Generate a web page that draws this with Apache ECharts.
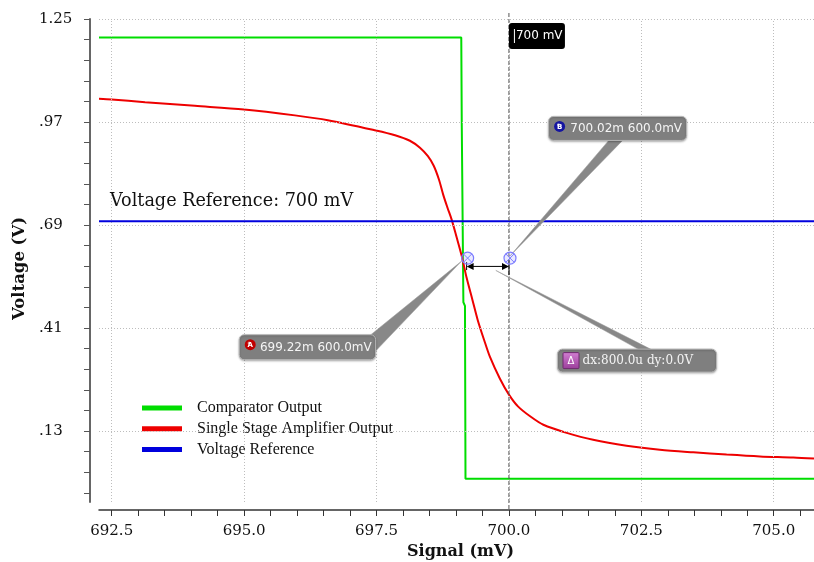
<!DOCTYPE html>
<html>
<head>
<meta charset="utf-8">
<script src="https://cdn.jsdelivr.net/npm/echarts@6/dist/echarts.min.js"></script>
<style>
  html, body { margin: 0; padding: 0; background: #fff; }
  #chart { width: 814px; height: 562px; }
</style>
</head>
<body>
<div id="chart"></div>
<script>
// Input signal sweep (mV) against output voltage (V)
const ampSignal = [692.26, 692.5, 693.13, 694.07, 695.0, 695.96, 696.58, 697.49, 697.85, 698.13,
  698.32, 698.47, 698.58, 698.68, 698.76, 698.84, 698.92, 699.01, 699.11, 699.20, 699.31, 699.41,
  699.53, 699.64, 699.83, 700.0, 700.17, 700.40, 700.65, 701.09, 701.59, 702.22, 702.85, 703.48,
  704.11, 704.74, 705.37, 705.76];
const ampVoltage = [1.033, 1.031, 1.024, 1.014, 1.004, 0.988, 0.975, 0.947, 0.934, 0.919,
  0.900, 0.877, 0.851, 0.813, 0.772, 0.737, 0.704, 0.658, 0.605, 0.547, 0.487, 0.432,
  0.378, 0.332, 0.272, 0.229, 0.197, 0.170, 0.147, 0.125, 0.106, 0.090, 0.079, 0.072,
  0.066, 0.061, 0.058, 0.055];

const compSignal = [692.26, 699.10, 699.11, 699.13, 699.14, 699.17, 699.18, 705.76];
const compVoltage = [1.2, 1.2, 0.955, 0.95, 0.48, 0.47, 0.0, 0.0];

const refSignal = [692.26, 705.76];
const refVoltage = [0.7, 0.7];

const signalRange = [692.26, 705.76];
const voltageRange = [-0.063, 1.25];

const signalTickLabels = [692.5, 695.0, 697.5, 700.0, 702.5, 705.0];
const voltageTickLabels = [0.13, 0.41, 0.69, 0.97, 1.25];

// Cursor readouts
const cursorSignal = 700.0;
const cursorTag = '700 mV';
const markerA = [699.22, 0.6];
const markerB = [700.02, 0.6];
const markerALabel = '699.22m 600.0mV';
const markerBLabel = '700.02m 600.0mV';
const deltaLabel = 'dx:800.0u dy:0.0V';
const refLabel = 'Voltage Reference: 700 mV';

const seriesNames = ['Comparator Output', 'Single Stage Amplifier Output', 'Voltage Reference'];
const seriesColors = ['#00dd00', '#ee0000', '#0000dd'];

// Minor tick positions: every 0.5 mV and every 0.056 V
const signalTicks = [];
for (let v = 692.5; v <= 705.5 + 1e-9; v += 0.5) signalTicks.push(+v.toFixed(2));
const voltageTicks = [];
for (let k = 0; k < 24; k++) voltageTicks.push(+(1.25 - k * 0.056).toFixed(3));

const pairs = (xs, ys) => xs.map((x, i) => [x, ys[i]]);

const SERIF = '"DejaVu Serif", serif';
const SANS = '"DejaVu Sans", sans-serif';

function callout(children, tip, box, base, iconFn, text, font, textX) {
  children.push({
    type: 'polygon',
    shape: { points: [tip, base[0], base[1]] },
    style: { fill: '#888', stroke: '#999', lineWidth: 0.5 }
  });
  children.push({
    type: 'rect',
    shape: { x: box.x, y: box.y, width: box.w, height: box.h, r: 5 },
    style: { fill: '#7f7f7f', stroke: '#b8b8b8', lineWidth: 1,
             shadowBlur: 2, shadowColor: 'rgba(0,0,0,0.25)', shadowOffsetY: 1 }
  });
  iconFn(children, box);
  children.push({
    type: 'text',
    style: { text: text, x: box.x + textX, y: box.y + box.h / 2 + 0.5, fill: '#f4f4f4',
             fontSize: 12, fontFamily: font, align: 'left', verticalAlign: 'middle' }
  });
}

function roundIcon(color, letter) {
  return function (children, box) {
    const cx = box.x + 11, cy = box.y + 10;
    children.push({
      type: 'circle', shape: { cx: cx, cy: cy, r: 5.5 },
      style: { fill: { type: 'radial', x: 0.4, y: 0.35, r: 0.7,
               colorStops: [{ offset: 0, color: '#fff' }, { offset: 0.25, color: color }, { offset: 1, color: color }] } }
    });
    children.push({
      type: 'text',
      style: { text: letter, x: cx, y: cy + 0.5, fill: '#fff', fontSize: 7, fontWeight: 'bold',
               fontFamily: SANS, align: 'center', verticalAlign: 'middle' }
    });
  };
}

function deltaIcon(children, box) {
  const x = box.x + 5.5, y = box.y + 3.5;
  children.push({
    type: 'rect', shape: { x: x, y: y, width: 16, height: 16, r: 1 },
    style: { fill: { type: 'linear', x: 0, y: 0, x2: 0, y2: 1,
             colorStops: [{ offset: 0, color: '#d27fd2' }, { offset: 1, color: '#9a3d9a' }] },
             stroke: '#6e2a6e', lineWidth: 1 }
  });
  children.push({
    type: 'text',
    style: { text: 'Δ', x: x + 8, y: y + 8.5, fill: '#fff', fontSize: 10,
             fontFamily: SANS, align: 'center', verticalAlign: 'middle' }
  });
}

function renderAnnotations(params, api) {
  const pA = api.coord(markerA);
  const pB = api.coord(markerB);
  const top = api.coord([cursorSignal, voltageRange[1]]);
  const bottom = api.coord([cursorSignal, voltageRange[0]]);
  const ref = api.coord([signalRange[0], refVoltage[0]]);
  const cx = top[0];
  const children = [];

  // Reference level caption
  children.push({
    type: 'text',
    style: { text: refLabel, x: ref[0] + 11, y: ref[1] - 19.5, fill: '#111', fontSize: 17.6,
             fontFamily: SERIF, align: 'left', verticalAlign: 'middle' }
  });

  // Vertical cursor with its tag
  children.push({
    type: 'line', shape: { x1: cx, y1: top[1] - 6, x2: cx, y2: bottom[1] + 8 },
    style: { stroke: '#555', lineWidth: 1, lineDash: [4, 2] }
  });
  children.push({
    type: 'rect', shape: { x: cx, y: top[1] + 4, width: 56, height: 26, r: 3 },
    style: { fill: '#000' }
  });
  children.push({
    type: 'rect', shape: { x: cx + 5, y: top[1] + 10, width: 1, height: 14 },
    style: { fill: '#fff' }
  });
  children.push({
    type: 'text',
    style: { text: cursorTag, x: cx + 7, y: top[1] + 17, fill: '#fff', fontSize: 12,
             fontFamily: SANS, align: 'left', verticalAlign: 'middle' }
  });

  // Callouts (drawn below the markers)
  callout(children, [pA[0] - 6, pA[1] + 3],
    { x: pA[0] - 228.4, y: pA[1] + 76.6, w: 136.4, h: 25 },
    [[pA[0] - 98, pA[1] + 77.6], [pA[0] - 92, pA[1] + 93]],
    roundIcon('#c00000', 'A'), markerALabel, SANS, 20.7);

  callout(children, [pB[0], pB[1] - 2],
    { x: pB[0] + 38.6, y: pB[1] - 141.7, w: 138, h: 24 },
    [[pB[0] + 99.6, pB[1] - 118.7], [pB[0] + 113.6, pB[1] - 118.7]],
    roundIcon('#1414a0', 'B'), markerBLabel, SANS, 21.7);

  const mx = (pA[0] + pB[0]) / 2, my = pA[1];
  callout(children, [mx + 7, my + 12.3],
    { x: mx + 68.7, y: my + 91, w: 159, h: 23 },
    [[mx + 151, my + 92], [mx + 163.7, my + 92]],
    deltaIcon, deltaLabel, SERIF, 25);

  // Double arrow between the two cursors
  const ay = pA[1] + 8.3, x1 = pA[0] - 1, x2 = pB[0] - 1;
  children.push({ type: 'line', shape: { x1: x1 + 3, y1: ay, x2: x2 - 3, y2: ay },
    style: { stroke: '#000', lineWidth: 1 } });
  children.push({ type: 'polygon', shape: { points: [[x1, ay], [x1 + 7, ay - 3.5], [x1 + 7, ay + 3.5]] },
    style: { fill: '#000' } });
  children.push({ type: 'polygon', shape: { points: [[x2, ay], [x2 - 7, ay - 3.5], [x2 - 7, ay + 3.5]] },
    style: { fill: '#000' } });
  children.push({ type: 'line', shape: { x1: x2, y1: pB[1] + 2, x2: x2, y2: pB[1] + 17 },
    style: { stroke: '#000', lineWidth: 1 } });
  children.push({ type: 'line', shape: { x1: x1, y1: pA[1] + 4, x2: x1, y2: pA[1] + 12 },
    style: { stroke: '#000', lineWidth: 1 } });

  // Cursor markers
  [pA, pB].forEach(function (p) {
    const d = 4.2;
    children.push({ type: 'circle', shape: { cx: p[0], cy: p[1], r: 6 },
      style: { fill: 'rgba(170,170,255,0.25)', stroke: '#7b7bff', lineWidth: 1.2 } });
    children.push({ type: 'line', shape: { x1: p[0] - d, y1: p[1] - d, x2: p[0] + d, y2: p[1] + d },
      style: { stroke: '#7b7bff', lineWidth: 1 } });
    children.push({ type: 'line', shape: { x1: p[0] - d, y1: p[1] + d, x2: p[0] + d, y2: p[1] - d },
      style: { stroke: '#7b7bff', lineWidth: 1 } });
  });

  return { type: 'group', children: children };
}

const chart = echarts.init(document.getElementById('chart'), null, { renderer: 'canvas' });

chart.setOption({
  animation: false,
  backgroundColor: '#fff',
  grid: { left: 99, top: 19, width: 715, height: 483, containLabel: false, outerBoundsMode: 'none' },
  legend: {
    data: seriesNames,
    orient: 'vertical',
    left: 142,
    top: 400,
    padding: 0,
    itemWidth: 40,
    itemHeight: 5,
    itemGap: 4.7,
    icon: 'rect',
    selectedMode: false,
    textStyle: { fontFamily: '"Liberation Serif", serif', fontSize: 16, lineHeight: 16,
                 color: '#111', padding: [0, 0, 0, 10] }
  },
  xAxis: {
    type: 'value',
    min: signalRange[0],
    max: signalRange[1],
    offset: 8,
    name: 'Signal (mV)',
    nameLocation: 'middle',
    nameGap: 34,
    nameTextStyle: { fontFamily: SERIF, fontWeight: 'bold', fontSize: 16, color: '#111',
                     padding: [0, 0, 0, 8] },
    axisLine: { show: true, onZero: false, lineStyle: { color: '#333', width: 1.5 } },
    axisTick: { show: true, length: 6, customValues: signalTicks, lineStyle: { color: '#333', width: 1 } },
    axisLabel: { customValues: signalTickLabels, margin: 14, fontFamily: SERIF, fontSize: 15,
                 color: '#111', formatter: v => v.toFixed(1) },
    splitLine: { show: false }
  },
  yAxis: {
    type: 'value',
    min: voltageRange[0],
    max: voltageRange[1],
    offset: 9,
    name: 'Voltage (V)',
    nameLocation: 'middle',
    nameGap: 58,
    nameTextStyle: { fontFamily: SERIF, fontWeight: 'bold', fontSize: 16.5, color: '#111',
                     padding: [0, 16, 0, 0] },
    axisLine: { show: true, onZero: false, lineStyle: { color: '#666', width: 2 } },
    axisTick: { show: true, length: 6, customValues: voltageTicks, lineStyle: { color: '#555', width: 1 } },
    axisLabel: { customValues: voltageTickLabels, margin: 51, align: 'left', fontFamily: SERIF,
                 fontSize: 15, color: '#111', formatter: v => v.toFixed(2).replace(/^0/, '') },
    splitLine: { show: false }
  },
  series: [
    {
      name: 'gridlines',
      type: 'line',
      z: 1,
      silent: true,
      showSymbol: false,
      lineStyle: { opacity: 0 },
      data: [[signalRange[0], voltageRange[1]]],
      markLine: {
        silent: true,
        symbol: 'none',
        animation: false,
        label: { show: false },
        emphasis: { disabled: true },
        lineStyle: { color: '#bdbdbd', type: [1, 2], width: 1 },
        data: signalTickLabels.map(v => ({ xAxis: v })).concat(voltageTickLabels.map(v => ({ yAxis: v })))
      }
    },
    {
      name: seriesNames[0],
      type: 'line',
      z: 3,
      showSymbol: false,
      data: pairs(compSignal, compVoltage),
      lineStyle: { color: seriesColors[0], width: 2 },
      itemStyle: { color: seriesColors[0] }
    },
    {
      name: seriesNames[1],
      type: 'line',
      z: 4,
      showSymbol: false,
      smooth: 0.3,
      data: pairs(ampSignal, ampVoltage),
      lineStyle: { color: seriesColors[1], width: 2 },
      itemStyle: { color: seriesColors[1] }
    },
    {
      name: seriesNames[2],
      type: 'line',
      z: 5,
      showSymbol: false,
      data: pairs(refSignal, refVoltage),
      lineStyle: { color: seriesColors[2], width: 2 },
      itemStyle: { color: seriesColors[2] }
    },
    {
      name: 'cursors',
      type: 'custom',
      z: 10,
      silent: true,
      clip: false,
      data: [markerA],
      renderItem: renderAnnotations
    }
  ]
});
</script>
</body>
</html>
